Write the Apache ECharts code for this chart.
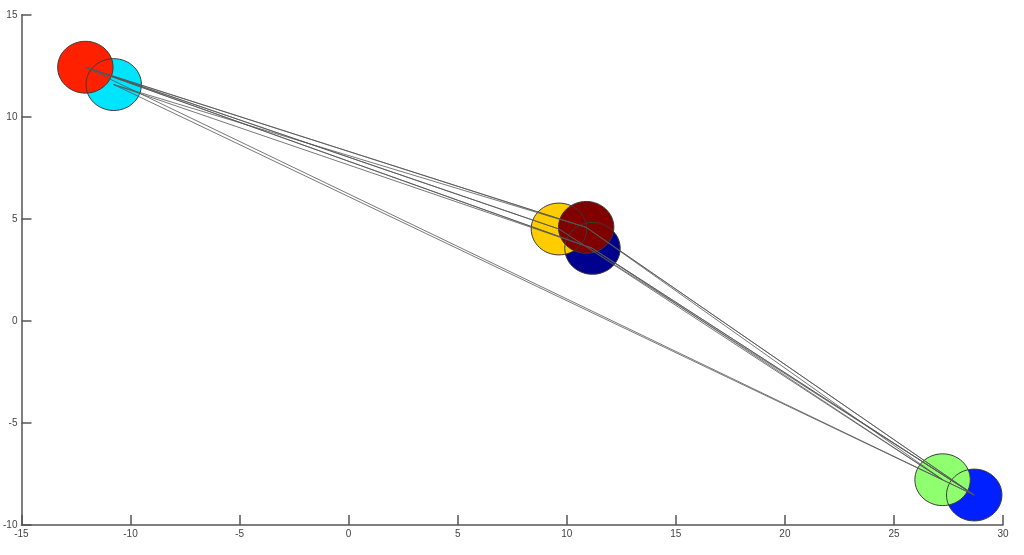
<!DOCTYPE html>
<html>
<head>
<meta charset="utf-8">
<script src="https://cdn.jsdelivr.net/npm/echarts@6/dist/echarts.min.js"></script>
<style>
html,body{margin:0;padding:0;background:#fff;}
#chart{width:1024px;height:555px;}
</style>
</head>
<body>
<div id="chart"></div>
<script>
// Circle (node) data
const nodeNames = ['red', 'cyan', 'yellow', 'darkred', 'navy', 'green', 'blue'];
const nodeX = [-12.07, -10.77, 9.64, 10.89, 11.18, 27.23, 28.68];
const nodeY = [12.44, 11.59, 4.51, 4.59, 3.56, -7.78, -8.53];
const nodeColors = ['#ff2000', '#00e5ff', '#ffcc00', '#800000', '#00008f', '#8fff70', '#0020ff'];
const nodeRadius = 1.27;
// drawing order of faces (later on top)
const drawOrder = [1, 0, 4, 2, 3, 6, 5];
// connecting paths, as indices into the node arrays
const paths = [
  [0, 3, 6], [0, 3, 5],
  [0, 2, 6], [0, 2, 5],
  [0, 4, 6], [0, 4, 5],
  [1, 3, 6], [1, 4, 6],
  [0, 6], [1, 6]
];
// axis ticks
const xMin = -15, xMax = 30, xStep = 5;
const yMin = -10, yMax = 15, yStep = 5;

const chart = echarts.init(document.getElementById('chart'));

const circleData = drawOrder.map(i => [nodeX[i], nodeY[i], i]);

function ellipseItem(fillMode) {
  return function (params, api) {
    const c = api.coord([api.value(0), api.value(1)]);
    const s = api.size([nodeRadius, nodeRadius]);
    const idx = api.value(2);
    return {
      type: 'ellipse',
      shape: { cx: c[0], cy: c[1], rx: s[0], ry: s[1] },
      style: fillMode
        ? { fill: nodeColors[idx], stroke: null }
        : { fill: null, stroke: '#3a3a3a', lineWidth: 1 }
    };
  };
}

const series = [
  {
    type: 'custom',
    renderItem: ellipseItem(true),
    data: circleData,
    encode: { x: 0, y: 1 },
    silent: true,
    z: 1
  },
  {
    type: 'custom',
    renderItem: ellipseItem(false),
    data: circleData,
    encode: { x: 0, y: 1 },
    silent: true,
    z: 2
  }
];
paths.forEach(p => {
  series.push({
    type: 'line',
    data: p.map(i => [nodeX[i], nodeY[i]]),
    symbol: 'none',
    silent: true,
    animation: false,
    lineStyle: { color: '#555', width: 0.8 },
    z: 3
  });
});

const labelStyle = { color: '#444', fontSize: 10, fontFamily: 'Liberation Sans, Arial, sans-serif' };

chart.setOption({
  animation: false,
  backgroundColor: '#fff',
  grid: { left: 21, right: 21, top: 15, bottom: 30, containLabel: false },
  xAxis: {
    type: 'value', min: xMin, max: xMax, interval: xStep,
    axisLine: { show: true, onZero: false, lineStyle: { color: '#555', width: 1.5 } },
    axisTick: { show: true, inside: true, length: 10, lineStyle: { color: '#555', width: 1.5 } },
    axisLabel: Object.assign({ margin: 4 }, labelStyle),
    splitLine: { show: false }
  },
  yAxis: {
    type: 'value', min: yMin, max: yMax, interval: yStep,
    axisLine: { show: true, onZero: false, lineStyle: { color: '#555', width: 1.5 } },
    axisTick: { show: true, inside: true, length: 10, lineStyle: { color: '#555', width: 1.5 } },
    axisLabel: Object.assign({ margin: 4 }, labelStyle),
    splitLine: { show: false }
  },
  series: series
});
</script>
</body>
</html>
